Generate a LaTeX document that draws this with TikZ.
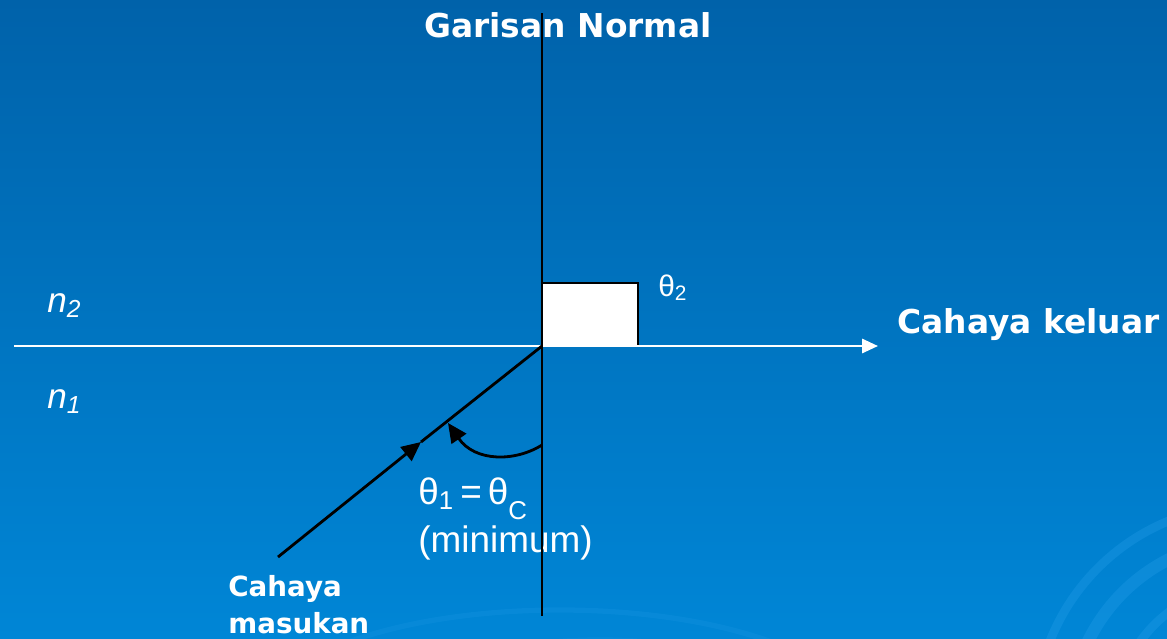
\documentclass[tikz,border=0pt]{standalone}
\usepackage{fontspec}
\setmainfont{Liberation Sans}
\newfontfamily\headfont{DejaVu Sans}
\usetikzlibrary{arrows.meta}

\definecolor{slidetop}{RGB}{0,98,170}
\definecolor{slidebot}{RGB}{0,134,214}
\definecolor{swirlblue}{RGB}{40,160,235}

\begin{document}
\begin{tikzpicture}[
    x=0.02cm, y=-0.02cm,
    >={Triangle[length=11pt, width=10pt]},
    ray/.style={line width=1.6pt, draw=black},
    bigtxt/.style={text=white, inner sep=0pt, anchor=base west,
                   font=\headfont\bfseries\fontsize{18.7}{22}\selectfont},
    smalltxt/.style={text=white, inner sep=0pt, anchor=base west,
                     font=\headfont\bfseries\fontsize{15.8}{20.5}\selectfont,
                     align=left},
    thintxt/.style={text=white, inner sep=0pt, anchor=base west,
                    font=\fontsize{21}{21}\selectfont, align=left},
    medium/.style={text=white, inner sep=0pt, anchor=base west,
                   font=\itshape\fontsize{20}{22}\selectfont},
    swirl/.style={draw=swirlblue, line width=5pt, opacity=0.3}
  ]
  \useasboundingbox (0,0) rectangle (1167,639);

  % background
  \shade[top color=slidetop, bottom color=slidebot] (0,0) rectangle (1167,639);
  \begin{scope}
    \clip (0,0) rectangle (1167,639);
    \draw[swirl] (1250,720) circle (215);
    \draw[swirl, line width=7pt] (1250,720) circle (180);
    \draw[swirl] (1250,720) circle (135);
    \draw[swirl, line width=3pt, opacity=0.18] (560,720) ellipse (300 and 110);
    \draw[swirl, line width=3pt, opacity=0.18] (600,735) ellipse (240 and 95);
  \end{scope}

  % points
  \coordinate (O) at (542,346);
  \coordinate (ntop) at (542,13);
  \coordinate (nbot) at (542,616);
  \coordinate (left) at (14,346);
  \coordinate (right) at (878,346);
  \coordinate (src) at (278,557);
  \coordinate (mid) at (421,442);
  \coordinate (arcA) at (542,445);
  \coordinate (arcB) at (448,423);

  % labels
  \node[bigtxt] (normal) at (424,37) {Garisan Normal};
  \node[bigtxt] (out) at (897,333) {Cahaya keluar};
  \node[smalltxt] (in) at (228,633) {Cahaya\\masukan};
  \node[medium] (n2) at (47,312) {n\textsubscript{2}};
  \node[medium] (n1) at (47,408) {n\textsubscript{1}};
  \node[thintxt, font=\fontsize{17}{18}\selectfont] (t2) at (658,296) {θ\textsubscript{2}};
  \node[thintxt] (t1) at (418,552) {θ\textsubscript{1}\,=\,θ\raisebox{-0.5ex}{\textsubscript{C}}\\[2pt](minimum)};

  % right angle box
  \draw[line width=1.6pt, fill=white] (O) rectangle (638,283);

  % interface and normal
  \draw[-{Triangle[length=9pt, width=8pt]}, white, line width=1.4pt] (left) -- (right);
  \draw[ray] (ntop) -- (nbot);

  % incident ray
  \draw[ray, ->] (src) -- (mid);
  \draw[ray] (mid) -- (O);

  % angle
  \draw[ray, ->] (arcA) .. controls (515,462) and (475,462) .. (arcB);
\end{tikzpicture}
\end{document}
